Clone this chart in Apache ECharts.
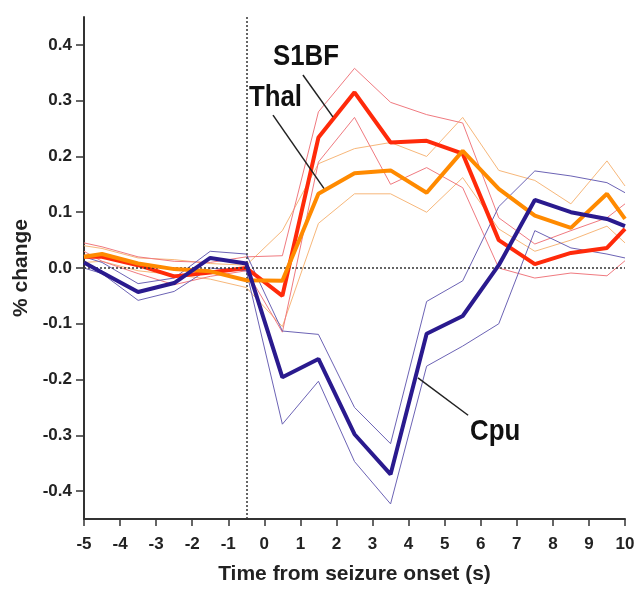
<!DOCTYPE html>
<html><head><meta charset="utf-8">
<script src="https://cdn.jsdelivr.net/npm/echarts@6/dist/echarts.min.js"></script>
<style>html,body{margin:0;padding:0;background:#fff}#c{width:634px;height:590px}</style>
</head><body><div id="c"></div>
<script>
const times = [-5, -4.5, -3.5, -2.5, -1.5, -0.5, 0.5, 1.5, 2.5, 3.5, 4.5, 5.5, 6.5, 7.5, 8.5, 9.5, 10];
const yTicks = [-0.4, -0.3, -0.2, -0.1, 0, 0.1, 0.2, 0.3, 0.4];

const cpuMean  = [0.01, -0.008, -0.043, -0.027, 0.018, 0.008, -0.196, -0.163, -0.298, -0.37, -0.118, -0.086, 0.005, 0.122, 0.10, 0.088, 0.075];
const cpuUpper = [0.02, 0.01, -0.028, -0.018, 0.03, 0.025, -0.113, -0.119, -0.25, -0.315, -0.06, -0.023, 0.11, 0.174, 0.165, 0.153, 0.135];
const cpuLower = [0.0, -0.01, -0.058, -0.042, 0.0, -0.005, -0.28, -0.203, -0.347, -0.423, -0.176, -0.14, -0.1, 0.067, 0.036, 0.025, 0.018];

const s1bfMean  = [0.02, 0.02, 0.005, -0.015, -0.008, 0.0, -0.05, 0.234, 0.315, 0.225, 0.228, 0.205, 0.05, 0.007, 0.027, 0.036, 0.07];
const s1bfUpper = [0.045, 0.038, 0.02, 0.012, 0.01, 0.02, 0.022, 0.28, 0.358, 0.297, 0.275, 0.26, 0.09, 0.043, 0.067, 0.09, 0.115];
const s1bfLower = [0.03, 0.012, -0.01, -0.03, -0.015, -0.005, -0.115, 0.19, 0.27, 0.15, 0.18, 0.144, 0.0, -0.018, -0.009, -0.014, 0.013];

const thalMean  = [0.02, 0.025, 0.008, -0.002, -0.006, -0.022, -0.023, 0.133, 0.17, 0.175, 0.135, 0.21, 0.142, 0.094, 0.072, 0.133, 0.088];
const thalUpper = [0.04, 0.035, 0.018, 0.015, 0.008, 0.005, 0.067, 0.187, 0.214, 0.225, 0.2, 0.27, 0.175, 0.157, 0.115, 0.192, 0.147];
const thalLower = [0.01, 0.012, -0.005, -0.012, -0.02, -0.035, -0.105, 0.08, 0.133, 0.133, 0.1, 0.162, 0.07, 0.03, 0.05, 0.075, 0.045];

// annotation leader lines, in data units
const leaders = [
  [[1.07, 0.346], [1.90, 0.271]],
  [[0.24, 0.274], [1.68, 0.140]],
  [[4.26, -0.197], [5.65, -0.264]]
];

const pair = arr => times.map((t, i) => [t, arr[i]]);
const base = "'Liberation Sans', Arial, sans-serif";

function line(name, data, color, width, z) {
  return { name, type: 'line', data: pair(data), symbol: 'none', z,
    lineStyle: { color, width }, emphasis: { disabled: true } };
}

const chart = echarts.init(document.getElementById('c'));
chart.setOption({
  animation: false,
  backgroundColor: '#fff',
  grid: { left: 84, right: 9, top: 17, bottom: 71, containLabel: false, outerBoundsMode: 'none' },
  xAxis: {
    type: 'value', min: -5, max: 10, interval: 1,
    name: 'Time from seizure onset (s)', nameLocation: 'middle', nameGap: 45,
    nameTextStyle: { fontFamily: base, fontWeight: 'bold', fontSize: 21, color: '#222' },
    axisLine: { show: true, onZero: false, lineStyle: { color: '#333', width: 2 } },
    axisTick: { show: true, length: 7, lineStyle: { color: '#333', width: 1.5 } },
    axisLabel: { margin: 17, fontFamily: base, fontWeight: 'bold', fontSize: 17, color: '#222' },
    splitLine: { show: false }
  },
  yAxis: {
    type: 'value', min: -0.45, max: 0.45,
    name: '% change', nameLocation: 'middle', nameGap: 45,
    nameTextStyle: { fontFamily: base, fontWeight: 'bold', fontSize: 21, color: '#222' },
    axisLine: { show: true, onZero: false, lineStyle: { color: '#333', width: 2 } },
    axisTick: { show: true, inside: false, length: 8, customValues: yTicks, lineStyle: { color: '#333', width: 1.5 } },
    axisLabel: { customValues: yTicks, margin: 12, fontFamily: base, fontWeight: 'bold', fontSize: 17, color: '#222',
      formatter: v => v.toFixed(1) },
    splitLine: { show: false }
  },
  series: [
    line('Thal upper', thalUpper, '#f7b77a', 1, 2),
    line('Thal lower', thalLower, '#f7b77a', 1, 2),
    line('S1BF upper', s1bfUpper, '#f07a80', 1, 2),
    line('S1BF lower', s1bfLower, '#f07a80', 1, 2),
    line('Cpu upper', cpuUpper, '#6c63b5', 1, 2),
    line('Cpu lower', cpuLower, '#6c63b5', 1, 2),
    line('S1BF', s1bfMean, '#ff2a0a', 4, 4),
    line('Thal', thalMean, '#ff8a00', 4, 5),
    line('Cpu', cpuMean, '#2a1a8e', 4, 6),
    {
      type: 'line', data: [], z: 3,
      markLine: {
        silent: true, symbol: 'none', animation: false,
        label: { show: false },
        lineStyle: { color: '#333', type: [2, 2], width: 1.5 },
        data: [{ xAxis: -0.5 }, { yAxis: 0 }]
      }
    },
    {
      type: 'line', data: [], z: 7,
      markLine: {
        silent: true, symbol: 'none', animation: false,
        label: { show: false },
        lineStyle: { color: '#222', type: 'solid', width: 1.5 },
        data: leaders.map(l => [{ coord: l[0] }, { coord: l[1] }])
      }
    }
  ],
  graphic: [
    { type: 'text', x: 273, y: 42, scaleX: 0.86, z: 100, style: { text: 'S1BF', font: "bold 30px " + base, fill: '#111' } },
    { type: 'text', x: 249, y: 83, scaleX: 0.86, z: 100, style: { text: 'Thal', font: "bold 30px " + base, fill: '#111' } },
    { type: 'text', x: 470, y: 417, scaleX: 0.86, z: 100, style: { text: 'Cpu', font: "bold 30px " + base, fill: '#111' } }
  ]
});
</script></body></html>
